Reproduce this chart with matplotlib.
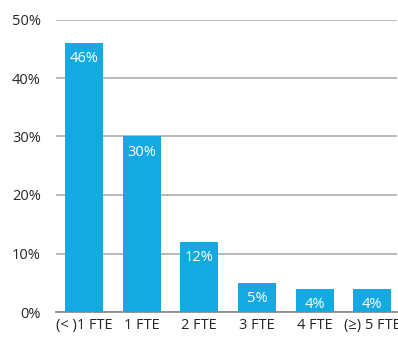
import matplotlib.pyplot as plt
from matplotlib.ticker import PercentFormatter

categories = ["(< )1 FTE", "1 FTE", "2 FTE", "3 FTE", "4 FTE", "(\u2265) 5 FTE"]
shares = [46, 30, 12, 5, 4, 4]
y_ticks = [0, 10, 20, 30, 40, 50]

plt.rcParams['font.family'] = ['Open Sans', 'DejaVu Sans']

fig = plt.figure(figsize=(3.98, 3.37), dpi=100)
ax = fig.add_axes([56 / 398, 25 / 337, 341 / 398, 292.5 / 337])

x = range(len(categories))
bars = ax.bar(x, shares, width=0.66, color="#14A9E1", zorder=3)

for rect, val in zip(bars, shares):
    ax.annotate(f"{val}%", (rect.get_x() + rect.get_width() / 2, val),
                xytext=(0, -6), textcoords="offset points",
                ha="center", va="top", color="white", fontsize=10.5, zorder=4)

ax.set_ylim(0, 50)
ax.set_xlim(-0.486, 5.43)
ax.set_yticks(y_ticks)
ax.yaxis.set_major_formatter(PercentFormatter(decimals=0))
ax.set_xticks(list(x))
ax.set_xticklabels(categories)

ax.grid(axis="y", color="#b3b3b3", linewidth=1.3, zorder=0)
ax.set_axisbelow(True)
for side in ["top", "right", "left"]:
    ax.spines[side].set_visible(False)
ax.spines["bottom"].set_color("#8c8c8c")
ax.spines["bottom"].set_linewidth(1.3)
ax.tick_params(axis="both", length=0, labelsize=10.5, colors="#262626")
ax.tick_params(axis="y", pad=11)
ax.tick_params(axis="x", pad=4)

fig.savefig("out.png", dpi=100)
